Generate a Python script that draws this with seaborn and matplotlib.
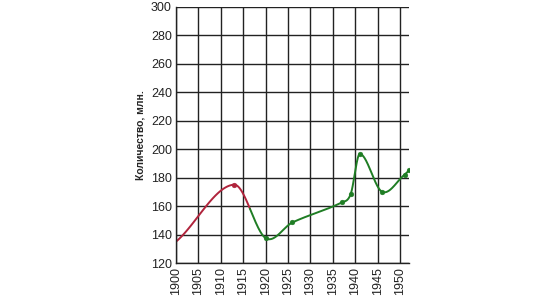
import numpy as np
import pandas as pd
import matplotlib
matplotlib.use("Agg")
import matplotlib.pyplot as plt
import seaborn as sns

# Data
red_years = [1900, 1913]
red_values = [135, 175]
green_years = [1920, 1926, 1937, 1939, 1941, 1946, 1951, 1952]
green_values = [137.5, 148.5, 162.5, 168.5, 196.5, 170, 182, 185]
x_ticks = [1900, 1905, 1910, 1915, 1920, 1925, 1930, 1935, 1940, 1945, 1950]
y_ticks = [120, 140, 160, 180, 200, 220, 240, 260, 280, 300]
y_label = "Количество, млн."
split_year = 1916.5

sns.set_theme(style="white")
plt.rcParams['font.family'] = ['Liberation Sans', 'DejaVu Sans']

xs = np.array(red_years + green_years, dtype=float)
ys = np.array(red_values + green_values, dtype=float)

# Hermite (Catmull-Rom style) smoothing between the read points
m = np.zeros_like(ys)
m[0] = (ys[1] - ys[0]) / (xs[1] - xs[0]) * 0.85
m[-1] = (ys[-1] - ys[-2]) / (xs[-1] - xs[-2])
for i in range(1, len(xs) - 1):
    m[i] = (ys[i + 1] - ys[i - 1]) / (xs[i + 1] - xs[i - 1])
sx, sy = [], []
for i in range(len(xs) - 1):
    h = xs[i + 1] - xs[i]
    t = np.linspace(0, 1, 60, endpoint=(i == len(xs) - 2))
    h00 = 2 * t**3 - 3 * t**2 + 1
    h10 = t**3 - 2 * t**2 + t
    h01 = -2 * t**3 + 3 * t**2
    h11 = t**3 - t**2
    sx.append(xs[i] + t * h)
    sy.append(h00 * ys[i] + h10 * h * m[i] + h01 * ys[i + 1] + h11 * h * m[i + 1])
sx = np.concatenate(sx)
sy = np.concatenate(sy)

curve = pd.DataFrame({"year": sx, "value": sy})
red_c = curve[curve.year <= split_year]
green_c = curve[curve.year >= split_year - 0.1]

fig = plt.figure(figsize=(5.42, 3.01), dpi=100)
ax = fig.add_axes([0.3247, 0.1262, 0.4299, 0.8518])

red_col = "#b0243c"
green_col = "#1f7d24"
sns.lineplot(data=red_c, x="year", y="value", ax=ax, color=red_col, lw=1.4, sort=False)
sns.lineplot(data=green_c, x="year", y="value", ax=ax, color=green_col, lw=1.4, sort=False)
pts_r = pd.DataFrame({"year": red_years[1:], "value": red_values[1:]})
pts_g = pd.DataFrame({"year": green_years, "value": green_values})
sns.scatterplot(data=pts_r, x="year", y="value", ax=ax, color=red_col, s=12, edgecolor=red_col, zorder=5)
sns.scatterplot(data=pts_g, x="year", y="value", ax=ax, color=green_col, s=12, edgecolor=green_col, zorder=5)

ax.set_xlim(1900, 1952)
ax.set_ylim(120, 300)
ax.set_xticks(x_ticks)
ax.set_yticks(y_ticks)
ax.set_xticklabels([str(v) for v in x_ticks], rotation=90, fontsize=9, color="#222222")
ax.set_yticklabels([str(v) for v in y_ticks], fontsize=9, color="#222222")
ax.grid(True, color="#222222", lw=1.0)
ax.set_axisbelow(True)
for s in ["top", "right"]:
    ax.spines[s].set_visible(False)
for s in ["left", "bottom"]:
    ax.spines[s].set_color("#222222")
    ax.spines[s].set_linewidth(1.0)
ax.tick_params(axis="both", length=0, pad=3)
ax.set_xlabel("")
ax.set_ylabel(y_label, fontsize=7.5, fontweight="bold", labelpad=4)

fig.savefig("out.png", dpi=100, facecolor="white")
